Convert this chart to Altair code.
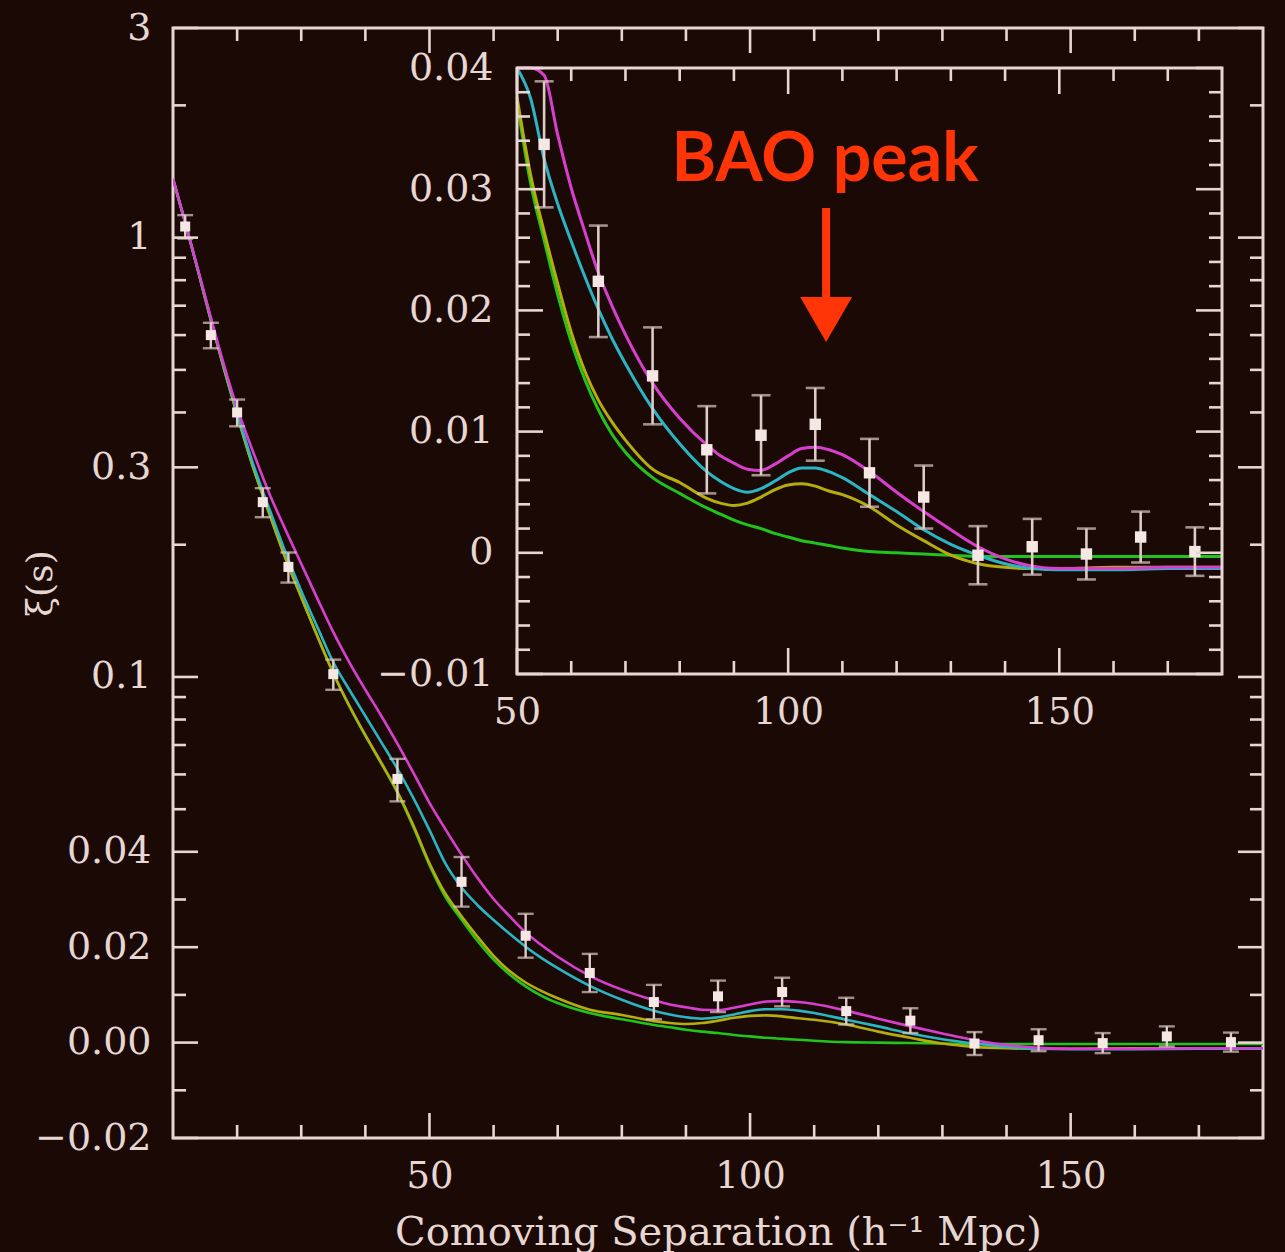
import numpy as np
import pandas as pd
import altair as alt

# ---------------- data ----------------
s_model = [10, 12, 14, 16, 18, 20, 22.5, 25, 27.5, 30, 32.5, 35, 37.5, 40, 42.5, 45, 47.5, 50,
           52.5, 55, 57.5, 60, 62.5, 65, 67.5, 70, 75, 80, 85, 87.5, 90, 92.5, 95, 97.5, 100,
           102.5, 105, 107.5, 110, 115, 120, 125, 130, 135, 140, 145, 150, 160, 170, 180]

xi_green = [1.36, 1.07, 0.83, 0.64, 0.50, 0.395, 0.30, 0.236, 0.187, 0.152, 0.124, 0.102, 0.0858, 0.0735, 0.0635, 0.0545, 0.0455, 0.0372,
            0.0305, 0.0258, 0.0213, 0.0174, 0.0143, 0.0118, 0.0098, 0.0083, 0.0062, 0.0049, 0.0037, 0.0032, 0.0027, 0.0023, 0.0020, 0.0016, 0.0013,
            0.0010, 0.0008, 0.0006, 0.0004, 0.0001, 0.0000, -0.0001, -0.0002, -0.0003, -0.0003, -0.0003, -0.0003, -0.0003, -0.0003, -0.0003]
xi_yellow = [1.36, 1.07, 0.83, 0.64, 0.50, 0.395, 0.30, 0.236, 0.187, 0.152, 0.124, 0.102, 0.0860, 0.0737, 0.0637, 0.0548, 0.0459, 0.0376,
             0.0312, 0.0265, 0.0222, 0.0182, 0.0150, 0.0126, 0.0108, 0.0093, 0.0069, 0.0058, 0.0045, 0.0041, 0.0039, 0.0041, 0.0046, 0.0052, 0.0056,
             0.0057, 0.0055, 0.0051, 0.0048, 0.0038, 0.0023, 0.0010, -0.0002, -0.0009, -0.0012, -0.0013, -0.0013, -0.0012, -0.0012, -0.0012]
xi_cyan = [1.36, 1.07, 0.832, 0.645, 0.505, 0.40, 0.305, 0.242, 0.193, 0.157, 0.130, 0.108, 0.0935, 0.0815, 0.0710, 0.0618, 0.0530, 0.0448,
           0.0375, 0.0325, 0.0288, 0.0257, 0.0228, 0.0201, 0.0177, 0.0156, 0.0119, 0.0090, 0.0067, 0.0059, 0.0053, 0.0050, 0.0053, 0.0059, 0.0066,
           0.0070, 0.0070, 0.0067, 0.0062, 0.0048, 0.0034, 0.0019, 0.0007, -0.0002, -0.0009, -0.0013, -0.0014, -0.0014, -0.0013, -0.0013]
xi_magenta = [1.36, 1.07, 0.835, 0.65, 0.51, 0.41, 0.325, 0.262, 0.217, 0.181, 0.151, 0.1265, 0.108, 0.0935, 0.0815, 0.0705, 0.0605, 0.0517,
              0.0450, 0.0394, 0.0345, 0.0301, 0.0265, 0.0231, 0.0204, 0.0180, 0.0140, 0.0111, 0.0089, 0.0080, 0.0074, 0.0069, 0.0068, 0.0073, 0.0080,
              0.0086, 0.0087, 0.0085, 0.0081, 0.0067, 0.0050, 0.0034, 0.0019, 0.0005, -0.0005, -0.0011, -0.0013, -0.0013, -0.0012, -0.0012]

model_names = ["no baryons", "0.14", "0.13", "0.12"]
model_colors = ["#22c41c", "#b5ad0c", "#2bb5c4", "#d83fd0"]

s_data = [11.9, 15.9, 20, 24, 28, 35, 45, 55, 65, 75, 85, 95, 105, 115, 125, 135, 145, 155, 165, 175]
xi_data = [1.06, 0.60, 0.40, 0.25, 0.178, 0.1015, 0.0586, 0.0337, 0.0224, 0.0146, 0.0085, 0.0097, 0.0106,
           0.0066, 0.0046, -0.0002, 0.0005, -0.0001, 0.0013, 0.0001]
xi_err = [0.065, 0.040, 0.028, 0.019, 0.014, 0.008, 0.0065, 0.0052, 0.0046, 0.0040, 0.0036, 0.0033, 0.0030,
          0.0028, 0.0026, 0.0024, 0.0023, 0.0021, 0.0021, 0.0020]

# main axis ticks
y_major = [3, 1, 0.3, 0.1, 0.04, 0.02, 0.0, -0.02]
y_major_labels = ["3", "1", "0.3", "0.1", "0.04", "0.02", "0.00", "\u22120.02"]
y_minor = [2, 0.9, 0.8, 0.7, 0.6, 0.5, 0.4, 0.2, 0.09, 0.08, 0.07, 0.06, 0.05, 0.03, 0.01, -0.01]
x_major = [50, 100, 150]
x_minor = [20, 30, 40, 60, 70, 80, 90, 110, 120, 130, 140, 160, 170]

# inset axis ticks
iy_major = [-0.01, 0.0, 0.01, 0.02, 0.03, 0.04]
iy_major_labels = ["\u22120.01", "0", "0.01", "0.02", "0.03", "0.04"]
iy_minor = [-0.008, -0.006, -0.004, -0.002, 0.002, 0.004, 0.006, 0.008, 0.012, 0.014, 0.016, 0.018,
            0.022, 0.024, 0.026, 0.028, 0.032, 0.034, 0.036, 0.038]
ix_major = [50, 100, 150]
ix_minor = [60, 70, 80, 90, 110, 120, 130, 140, 160, 170]

annot_text = "BAO peak"

# ---------------- styling ----------------
BG = "#1b0906"
FG = "#e6d7d2"
EB = "#dccbc6"
RED = "#ff3508"
FONT = "DejaVu Serif"

W, H = 1090, 1110
# inset rectangle inside the main plot area (pixels)
IX0, IX1 = 344, 1049
IY0, IY1 = 646, 40
IXD = [50, 180]
IYD = [-0.01, 0.04]
SX = (IX1 - IX0) / (IXD[1] - IXD[0])
SY = (IY0 - IY1) / (IYD[1] - IYD[0])

XI0 = 0.04


def yt(v):
    v = np.asarray(v, dtype=float)
    return np.where(v >= XI0, np.log10(np.maximum(v, XI0) / XI0), (v - XI0) / (XI0 * np.log(10)))


def label_expr(vals, labels):
    expr = "''"
    for v, lab in zip(vals, labels):
        expr = f"abs(datum.value - ({float(v):.6f})) < 0.0005 ? '{lab}' : ({expr})"
    return expr


# ---------------- tables ----------------
rows = []
for name, arr in zip(model_names, [xi_green, xi_yellow, xi_cyan, xi_magenta]):
    for s, v in zip(s_model, arr):
        rows.append({"s": s, "xi": v, "model": name})
lines = pd.DataFrame(rows)
lines["yt"] = yt(lines["xi"])
lines_in = lines[lines["s"] >= 50].copy()

pts = pd.DataFrame({"s": s_data, "xi": xi_data, "err": xi_err})
pts["lo"] = pts["xi"] - pts["err"]
pts["hi"] = pts["xi"] + pts["err"]
pts["yt"] = yt(pts["xi"])
pts["lo_t"] = yt(pts["lo"])
pts["hi_t"] = yt(pts["hi"])
pts_in = pts[pts["s"] >= 50].copy()

ymaj_t = [float(t) for t in yt(y_major)]
ymin_t = [float(t) for t in yt(y_minor)]

# ---------------- main panel ----------------
main_x = alt.Scale(domain=[10, 180], nice=False, zero=False)
main_y = alt.Scale(domain=[float(yt(-0.02)), float(yt(3))], nice=False, zero=False)

main_xaxis = alt.Axis(values=x_major, ticks=False, domain=False, grid=False, labelFlush=False,
                      labelFont=FONT, labelFontSize=37, labelColor=FG, labelPadding=20,
                      title="Comoving Separation (h\u207b\u00b9 Mpc)", titleFont=FONT, titleFontSize=40,
                      titleFontWeight="normal", titleColor=FG, titleY=106, titleBaseline="alphabetic")
main_yaxis = alt.Axis(values=ymaj_t, labelExpr=label_expr(ymaj_t, y_major_labels),
                      ticks=False, domain=False, grid=False, labelFlush=False,
                      labelFont=FONT, labelFontSize=38, labelColor=FG, labelPadding=22,
                      title="\u03be(s)", titleFont=FONT, titleFontSize=36, titleFontWeight="normal",
                      titleColor=FG, titleX=-133, titleY=555, titleAngle=270,
                      titleAlign="center", titleBaseline="middle")


def MX(f):
    return alt.X(f, type="quantitative", scale=main_x, axis=main_xaxis)


def MY(f):
    return alt.Y(f, type="quantitative", scale=main_y, axis=main_yaxis)


color_enc = alt.Color("model:N", scale=alt.Scale(domain=model_names, range=model_colors), legend=None)

m_lines = alt.Chart(lines).mark_line(strokeWidth=2.6, clip=True, interpolate="monotone").encode(
    x=MX("s"), y=MY("yt"), color=color_enc, order=alt.Order("s:Q"))
m_err = alt.Chart(pts).mark_rule(color=EB, strokeWidth=2.4).encode(x=MX("s"), y=MY("lo_t"), y2="hi_t")
m_cap_lo = alt.Chart(pts).mark_tick(orient="horizontal", size=16, thickness=2.4, color=EB).encode(x=MX("s"), y=MY("lo_t"))
m_cap_hi = alt.Chart(pts).mark_tick(orient="horizontal", size=16, thickness=2.4, color=EB).encode(x=MX("s"), y=MY("hi_t"))
m_pts = alt.Chart(pts).mark_square(size=100, color="#f5e8e4", opacity=1).encode(x=MX("s"), y=MY("yt"))

LMAJ, LMIN = 25, 13
ymaj_df = pd.DataFrame({"t": ymaj_t})
ymin_df = pd.DataFrame({"t": ymin_t})
xmaj_df = pd.DataFrame({"v": x_major})
xmin_df = pd.DataFrame({"v": x_minor})
tick_style = dict(color=FG, strokeWidth=2.6)

m_ticks = [
    alt.Chart(ymaj_df).mark_rule(**tick_style).encode(y=MY("t"), x=alt.value(0), x2=alt.value(LMAJ)),
    alt.Chart(ymin_df).mark_rule(**tick_style).encode(y=MY("t"), x=alt.value(0), x2=alt.value(LMIN)),
    alt.Chart(ymaj_df).mark_rule(**tick_style).encode(y=MY("t"), x=alt.value(W), x2=alt.value(W - LMAJ)),
    alt.Chart(ymin_df).mark_rule(**tick_style).encode(y=MY("t"), x=alt.value(W), x2=alt.value(W - LMIN)),
    alt.Chart(xmaj_df).mark_rule(**tick_style).encode(x=MX("v"), y=alt.value(H), y2=alt.value(H - LMAJ)),
    alt.Chart(xmin_df).mark_rule(**tick_style).encode(x=MX("v"), y=alt.value(H), y2=alt.value(H - LMIN)),
    alt.Chart(xmaj_df).mark_rule(**tick_style).encode(x=MX("v"), y=alt.value(0), y2=alt.value(LMAJ)),
    alt.Chart(xmin_df).mark_rule(**tick_style).encode(x=MX("v"), y=alt.value(0), y2=alt.value(LMIN)),
]

main_layer = alt.layer(m_lines, m_err, m_cap_lo, m_cap_hi, m_pts, *m_ticks)

# ---------------- inset panel ----------------
ins_x = alt.Scale(domain=IXD, range=[IX0, IX1], nice=False, zero=False)
ins_y = alt.Scale(domain=IYD, range=[IY0, IY1], nice=False, zero=False, clamp=True)

ins_xaxis = alt.Axis(orient="bottom", offset=IY0 - H, values=ix_major, ticks=False, domain=False, grid=False,
                     labelFlush=False, labelFont=FONT, labelFontSize=37, labelColor=FG, labelPadding=20, title=None)
ins_yaxis = alt.Axis(orient="left", offset=-IX0, values=iy_major, labelExpr=label_expr(iy_major, iy_major_labels),
                     ticks=False, domain=False, grid=False, labelFlush=False,
                     labelFont=FONT, labelFontSize=38, labelColor=FG, labelPadding=24, title=None)


def IX(f):
    return alt.X(f, type="quantitative", scale=ins_x, axis=ins_xaxis)


def IY(f):
    return alt.Y(f, type="quantitative", scale=ins_y, axis=ins_yaxis)


box = pd.DataFrame({"x1": [IXD[0]], "x2": [IXD[1]], "y1": [IYD[0]], "y2": [IYD[1]]})
i_bg = alt.Chart(box).mark_rect(color=BG).encode(x=IX("x1"), x2="x2", y=IY("y1"), y2="y2")
i_lines = alt.Chart(lines_in).mark_line(strokeWidth=3, interpolate="monotone").encode(
    x=IX("s"), y=IY("xi"), color=color_enc, order=alt.Order("s:Q"))
i_err = alt.Chart(pts_in).mark_rule(color=EB, strokeWidth=2.6).encode(x=IX("s"), y=IY("lo"), y2="hi")
i_cap_lo = alt.Chart(pts_in).mark_tick(orient="horizontal", size=19, thickness=2.6, color=EB).encode(x=IX("s"), y=IY("lo"))
i_cap_hi = alt.Chart(pts_in).mark_tick(orient="horizontal", size=19, thickness=2.6, color=EB).encode(x=IX("s"), y=IY("hi"))
i_pts = alt.Chart(pts_in).mark_square(size=130, color="#f5e8e4", opacity=1).encode(x=IX("s"), y=IY("xi"))
i_frame = alt.Chart(box).mark_rect(fillOpacity=0, stroke=FG, strokeWidth=3).encode(
    x=IX("x1"), x2="x2", y=IY("y1"), y2="y2")

ILMAJ, ILMIN = 26, 13


def hticks(vals, x_edge, length_px, direction):
    return pd.DataFrame({"y": vals, "x1": [x_edge] * len(vals),
                         "x2": [x_edge + direction * length_px / SX] * len(vals)})


def vticks(vals, y_edge, length_px, direction):
    return pd.DataFrame({"x": vals, "y1": [y_edge] * len(vals),
                         "y2": [y_edge + direction * length_px / SY] * len(vals)})


i_ticks = []
for df in [hticks(iy_major, IXD[0], ILMAJ, 1), hticks(iy_minor, IXD[0], ILMIN, 1),
           hticks(iy_major, IXD[1], ILMAJ, -1), hticks(iy_minor, IXD[1], ILMIN, -1)]:
    i_ticks.append(alt.Chart(df).mark_rule(**tick_style).encode(x=IX("x1"), x2="x2", y=IY("y")))
for df in [vticks(ix_major, IYD[0], ILMAJ, 1), vticks(ix_minor, IYD[0], ILMIN, 1),
           vticks(ix_major, IYD[1], ILMAJ, -1), vticks(ix_minor, IYD[1], ILMIN, -1)]:
    i_ticks.append(alt.Chart(df).mark_rule(**tick_style).encode(x=IX("x"), y=IY("y1"), y2="y2"))

# annotation: "BAO peak" with a downward arrow
ann_txt = pd.DataFrame({"x": [106.8], "y": [0.0307], "label": [annot_text]})
ann_shaft = pd.DataFrame({"x": [107.0], "y1": [0.02845], "y2": [0.0205]})
ann_head = pd.DataFrame({"x": [107.0], "y": [0.01925]})

i_text = alt.Chart(ann_txt).mark_text(font="Lato", fontSize=68, fontWeight="bold", color=RED, align="center",
                                      baseline="alphabetic").encode(x=IX("x"), y=IY("y"), text="label:N")
i_shaft = alt.Chart(ann_shaft).mark_rule(color=RED, strokeWidth=8).encode(x=IX("x"), y=IY("y1"), y2="y2")
i_head = alt.Chart(ann_head).mark_point(shape="triangle-down", size=2700, filled=True, color=RED,
                                        opacity=1).encode(x=IX("x"), y=IY("y"))

inset_layer = alt.layer(i_bg, i_lines, i_err, i_cap_lo, i_cap_hi, i_pts, i_frame, *i_ticks,
                        i_text, i_shaft, i_head)

chart = (
    alt.layer(main_layer, inset_layer)
    .resolve_scale(x="independent", y="independent")
    .properties(width=W, height=H,
                padding={"left": 173, "top": 28, "right": 22, "bottom": 114},
                autosize=alt.AutoSizeParams(type="none"))
    .configure(background=BG)
    .configure_view(stroke=FG, strokeWidth=3)
)

chart.save("out.html", embed_options={"renderer": "svg", "actions": False})
